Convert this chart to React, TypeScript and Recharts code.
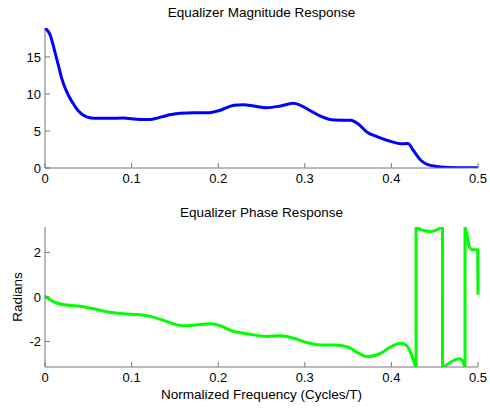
import { LineChart, Line, XAxis, YAxis } from 'recharts';

// Magnitude response (normalized frequency, |H|)
const magFreq = [
  0, 0.0058, 0.0116, 0.0154, 0.0193, 0.025, 0.0309, 0.0386, 0.048, 0.058, 0.075, 0.09, 0.11,
  0.1215, 0.1408, 0.156, 0.1717, 0.187, 0.2025, 0.218, 0.2295, 0.241, 0.256, 0.272, 0.287, 0.295,
  0.307, 0.318, 0.334, 0.353, 0.361, 0.372, 0.384, 0.399, 0.411, 0.419, 0.426, 0.434, 0.442,
  0.457, 0.476, 0.5,
];
const magValue = [
  18.9, 18.0, 15.6, 13.9, 12.1, 10.3, 9.0, 7.7, 6.9, 6.7, 6.7, 6.75, 6.56,
  6.56, 7.1, 7.4, 7.45, 7.45, 7.8, 8.46, 8.55, 8.37, 8.14, 8.37, 8.73, 8.46,
  7.7, 7.0, 6.47, 6.43, 6.0, 4.84, 4.2, 3.6, 3.26, 3.3, 2.26, 1.04, 0.45,
  0.14, 0.05, 0.03,
];

// Phase response (radians), wraps at +/- pi
const phaseFreq = [
  0, 0.0058, 0.0135, 0.025, 0.0405, 0.056, 0.075, 0.09, 0.11, 0.1215, 0.137, 0.1524, 0.164,
  0.1795, 0.191, 0.2025, 0.218, 0.2257, 0.241, 0.256, 0.272, 0.287, 0.303, 0.318, 0.334, 0.349,
  0.361, 0.372, 0.388, 0.399, 0.411, 0.417, 0.4225, 0.426, 0.4285, 0.4285, 0.434, 0.4456, 0.453,
  0.459, 0.459, 0.4688, 0.4784, 0.482, 0.485, 0.485, 0.488, 0.4899, 0.4938, 0.4996, 0.5,
];
const phaseValue = [
  0.03, -0.12, -0.27, -0.36, -0.42, -0.53, -0.68, -0.75, -0.8, -0.87, -1.05, -1.25, -1.29,
  -1.23, -1.2, -1.29, -1.55, -1.6, -1.7, -1.77, -1.74, -1.85, -2.05, -2.15, -2.15, -2.23,
  -2.5, -2.68, -2.52, -2.24, -2.08, -2.16, -2.52, -2.91, -3.14, 3.14, 3.02, 2.94, 3.02,
  3.14, -3.14, -2.91, -2.77, -2.85, -3.14, 3.14, 2.66, 2.27, 2.12, 2.12, 0.1,
];

const freqTicks = [0, 0.1, 0.2, 0.3, 0.4, 0.5];
const magTicks = [0, 5, 10, 15];
const phaseTicks = [-2, 0, 2];

const magData = magFreq.map((f, i) => ({ f, v: magValue[i] }));
const phaseData = phaseFreq.map((f, i) => ({ f, v: phaseValue[i] }));

const FONT = 'Liberation Sans, Arial, sans-serif';
const FRAME = '#777';
const tickStyle = { fill: '#000', fontSize: 13, fontFamily: FONT };

// bottom/left axes carry labels, top/right only inward ticks (boxed MATLAB look)
function axes(yDomain: [number, number], yTicks: number[]) {
  return [
    <XAxis
      key="xb"
      xAxisId="b"
      type="number"
      dataKey="f"
      domain={[0, 0.5]}
      ticks={freqTicks}
      tickFormatter={(v: number) => String(v)}
      height={32}
      tickSize={-5}
      tickMargin={11}
      stroke={FRAME}
      tick={tickStyle}
      interval={0}
    />,
    <XAxis
      key="xt"
      xAxisId="t"
      orientation="top"
      type="number"
      dataKey="f"
      domain={[0, 0.5]}
      ticks={freqTicks}
      height={0}
      tickSize={-5}
      stroke={FRAME}
      tick={false}
    />,
    <YAxis
      key="yl"
      yAxisId="l"
      type="number"
      domain={yDomain}
      ticks={yTicks}
      width={45}
      tickSize={-5}
      tickMargin={9}
      stroke={FRAME}
      tick={tickStyle}
      allowDataOverflow
      interval={0}
    />,
    <YAxis
      key="yr"
      yAxisId="r"
      orientation="right"
      type="number"
      domain={yDomain}
      ticks={yTicks}
      width={0}
      tickSize={-5}
      stroke={FRAME}
      tick={false}
      allowDataOverflow
    />,
  ];
}

const titleStyle: React.CSSProperties = {
  position: 'absolute',
  left: 45,
  width: 433,
  textAlign: 'center',
  fontFamily: FONT,
  fontSize: 13.5,
  color: '#000',
  lineHeight: '16px',
};

export default function App() {
  return (
    <div style={{ position: 'absolute', left: 0, top: 0, width: 490, height: 410, background: '#fff' }}>
      <div style={{ ...titleStyle, top: 5 }}>Equalizer Magnitude Response</div>
      <div style={{ position: 'absolute', left: 0, top: 0 }}>
        <LineChart width={490} height={200} data={magData} margin={{ top: 28, right: 12, bottom: 0, left: 0 }}>
          {axes([0, 18.9], magTicks)}
          <Line
            xAxisId="b"
            yAxisId="l"
            type="monotone"
            dataKey="v"
            stroke="#0000ff"
            strokeWidth={3}
            dot={false}
            isAnimationActive={false}
          />
        </LineChart>
      </div>

      <div style={{ ...titleStyle, top: 205 }}>Equalizer Phase Response</div>
      <div style={{ position: 'absolute', left: 0, top: 200 }}>
        <LineChart width={490} height={210} data={phaseData} margin={{ top: 27, right: 12, bottom: 11, left: 0 }}>
          {axes([-Math.PI, Math.PI], phaseTicks)}
          <Line
            xAxisId="b"
            yAxisId="l"
            type="monotone"
            dataKey="v"
            stroke="#00ff00"
            strokeWidth={3}
            dot={false}
            isAnimationActive={false}
          />
        </LineChart>
      </div>
      <div
        style={{
          position: 'absolute',
          left: 45,
          width: 433,
          top: 387,
          textAlign: 'center',
          fontFamily: FONT,
          fontSize: 13.5,
          lineHeight: '16px',
        }}
      >
        Normalized Frequency (Cycles/T)
      </div>
      <div
        style={{
          position: 'absolute',
          left: 18,
          top: 297,
          transform: 'translate(-50%, -50%) rotate(-90deg)',
          fontFamily: FONT,
          fontSize: 13.5,
          whiteSpace: 'nowrap',
          lineHeight: '16px',
        }}
      >
        Radians
      </div>
    </div>
  );
}
